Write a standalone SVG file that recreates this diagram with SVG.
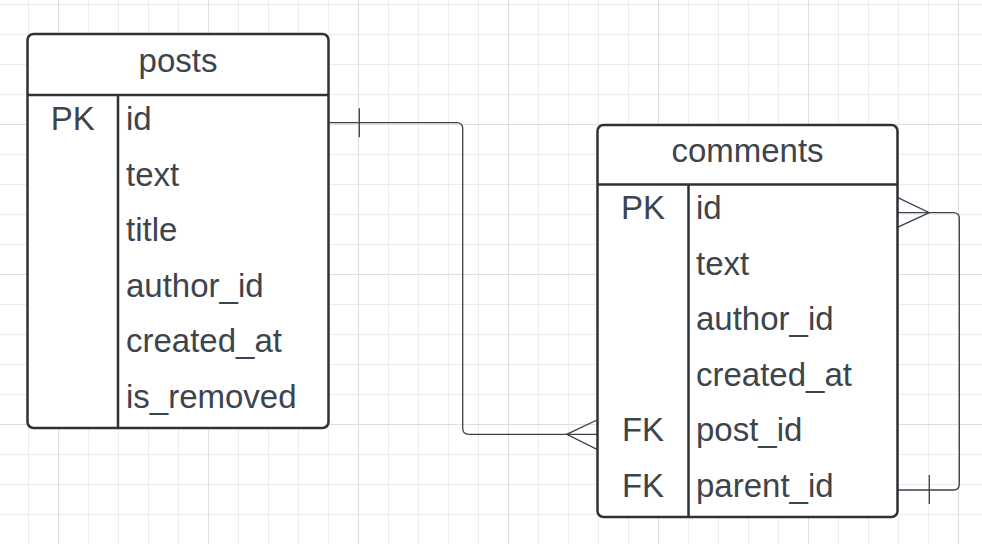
<svg xmlns="http://www.w3.org/2000/svg" width="982" height="544" viewBox="0 0 982 544">
<style>
.tbl{fill:#ffffff;stroke:#2d3237;stroke-width:2.5}
.ln{stroke:#2d3237;stroke-width:2.5;fill:none}
.t{font-family:"Liberation Sans",Arial,sans-serif;font-size:33px;fill:#3d444b}
.c{text-anchor:middle}
.con{fill:none;stroke:#3a4048;stroke-width:1.3}
</style>
<defs>
<pattern id="minor" patternUnits="userSpaceOnUse" x="28" y="4" width="30" height="30">
<rect x="0" y="0" width="1" height="30" fill="#ececec"/>
<rect x="0" y="0" width="30" height="1" fill="#ececec"/>
</pattern>
<pattern id="major" patternUnits="userSpaceOnUse" x="58" y="124" width="150" height="150">
<rect x="0" y="0" width="1" height="150" fill="#dedede"/>
<rect x="0" y="0" width="150" height="1" fill="#dedede"/>
</pattern>
</defs>
<rect width="982" height="544" fill="#ffffff"/>
<rect width="982" height="544" fill="url(#minor)"/>
<rect width="982" height="544" fill="url(#major)"/>
<g id="connectors">
<path class="con" d="M328.5 122.7 H456.7 Q462.7 122.7 462.7 128.7 V428.3 Q462.7 434.3 468.7 434.3 H597"/>
<path class="con" d="M359.3 108.3 V137.3"/>
<path class="con" d="M597 420 L566.7 434.3 L597 449.3"/>
<path class="con" d="M897.3 212.7 H953.3 Q959.3 212.7 959.3 218.7 V484 Q959.3 490 953.3 490 H897.3"/>
<path class="con" d="M897.3 197.3 L929.3 212.7 L897.3 227.3"/>
<path class="con" d="M929.3 475 V504"/>
</g>
<g id="posts">
<rect class="tbl" x="27.5" y="34" width="301" height="394" rx="6"/>
<path class="ln" d="M27.5 95 H328.5 M118 95 V428"/>
<text class="t c" x="178" y="72">posts</text>
<text class="t c" x="72.8" y="130">PK</text>
<text class="t" x="126" y="130">id</text>
<text class="t" x="126" y="185.5">text</text>
<text class="t" x="126" y="241">title</text>
<text class="t" x="126" y="296.5">author_id</text>
<text class="t" x="126" y="352">created_at</text>
<text class="t" x="126" y="407.5">is_removed</text>
</g>
<g id="comments">
<rect class="tbl" x="597.5" y="125" width="300" height="392" rx="6"/>
<path class="ln" d="M597.5 184.5 H897.5 M688.5 184.5 V517"/>
<text class="t c" x="747.5" y="162">comments</text>
<text class="t c" x="643" y="219">PK</text>
<text class="t" x="696" y="219">id</text>
<text class="t" x="696" y="274.5">text</text>
<text class="t" x="696" y="330">author_id</text>
<text class="t" x="696" y="385.5">created_at</text>
<text class="t c" x="643" y="441">FK</text>
<text class="t" x="696" y="441">post_id</text>
<text class="t c" x="643" y="496.5">FK</text>
<text class="t" x="696" y="496.5">parent_id</text>
</g>
</svg>
